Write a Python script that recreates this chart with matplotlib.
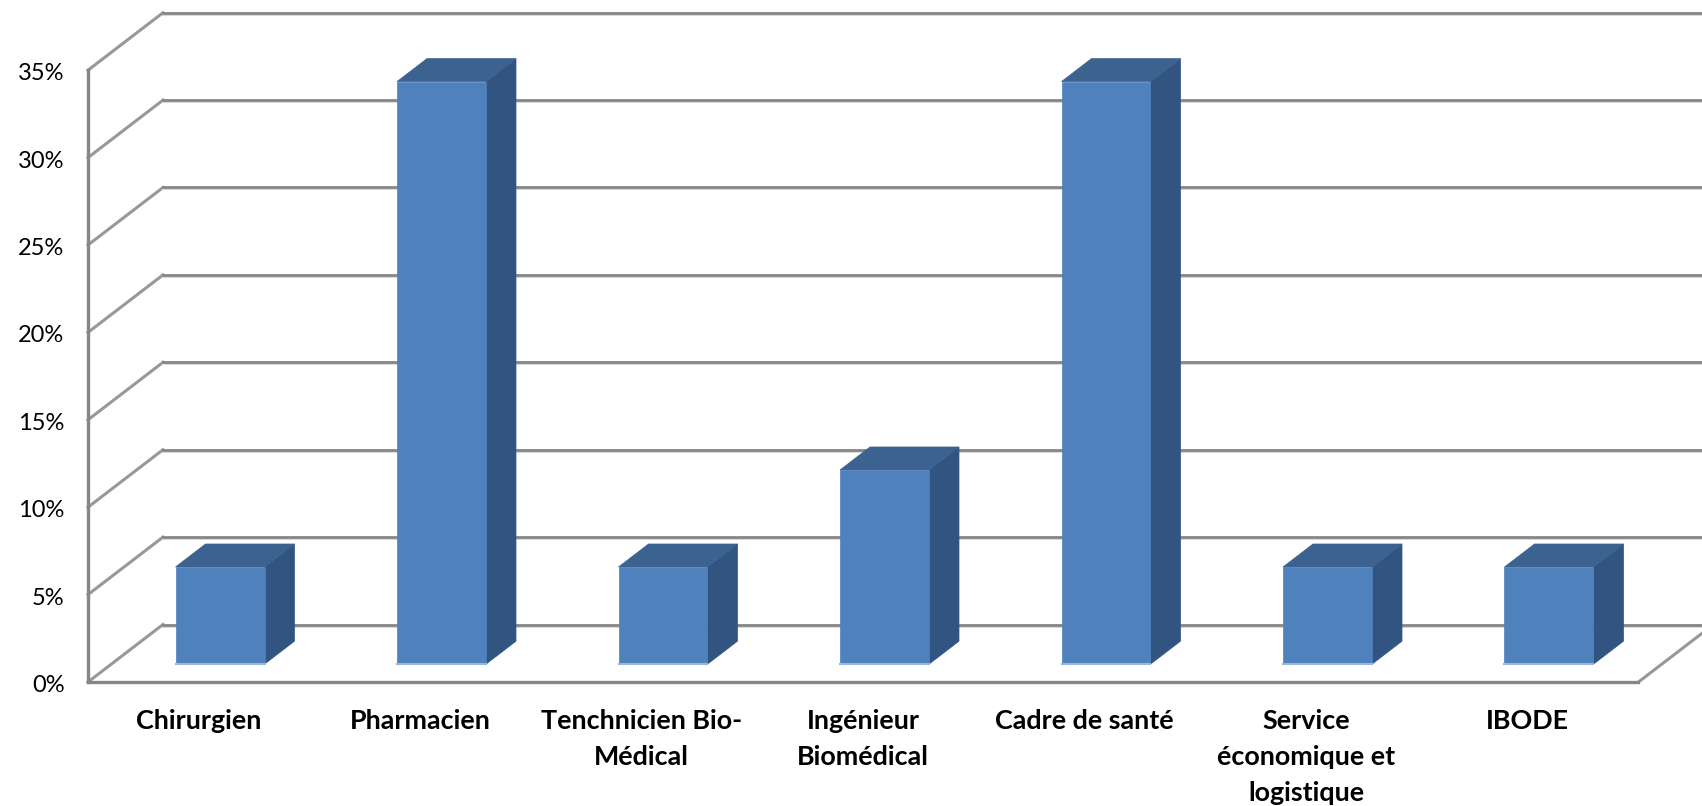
"""3D-style column chart: share of respondents by profession."""
import matplotlib

matplotlib.use("Agg")
import matplotlib.pyplot as plt
import numpy as np
from matplotlib.transforms import ScaledTranslation

categories = [
    "Chirurgien",
    "Pharmacien",
    "Tenchnicien Bio-\nMédical",
    "Ingénieur\nBiomédical",
    "Cadre de santé",
    "Service\néconomique et\nlogistique",
    "IBODE",
]
values = [5.56, 33.33, 5.56, 11.11, 33.33, 5.56, 5.56]
y_ticks = [0, 5, 10, 15, 20, 25, 30, 35]

W, H = 1702, 806
LEFT, FLOOR = 88, 682  # front corner of the plot, pixels
CAT_PX, PCT_PX = 221.5, 87.4 / 5

# oblique projection, in data units
DEPTH_X = 75 / CAT_PX
DEPTH_Y = 57.5 / PCT_PX
BAR_W = 89 / CAT_PX
BAR_SHIFT = -2 / CAT_PX
BAR_Z0, BAR_Z1 = 0.31, 0.71

GRID = "#868686"
FRONT = "#4F81BD"
SIDE = "#325480"
TOP = "#3C6290"


def proj(x, y, z):
    return x + z * DEPTH_X, y + z * DEPTH_Y


def face(ax, pts, color, zorder):
    xy = np.array([proj(*p) for p in pts])
    ax.fill(xy[:, 0], xy[:, 1], color=color, lw=0.5, zorder=zorder)


def main():
    plt.rcParams["font.family"] = ["Lato", "DejaVu Sans"]
    fig = plt.figure(figsize=(W / 100, H / 100), dpi=100)
    ax = fig.add_axes([LEFT / W, (H - FLOOR) / H, (W - LEFT) / W, FLOOR / H])
    ax.set_xlim(0, (W - LEFT) / CAT_PX)
    ax.set_ylim(0, FLOOR / PCT_PX)
    for s in ax.spines.values():
        s.set_visible(False)

    n = len(categories)
    xmax = ax.get_xlim()[1]
    below = ax.transData + ScaledTranslation(0, -2 / 100, fig.dpi_scale_trans)

    # walls and gridlines
    for t in y_ticks:
        bx, by = proj(0, t, 1)
        ax.plot([0, bx], [t, by], color=GRID, lw=2.2, alpha=0.85, zorder=1, clip_on=False)
        ax.plot([bx, xmax], [by, by], color="#D9D9D9", lw=1.5, zorder=1, transform=below)
        ax.plot([bx, xmax], [by, by], color=GRID, lw=2.0, zorder=2)
    ax.plot([0, 0], [0, y_ticks[-1]], color=GRID, lw=2.4, zorder=2, clip_on=False)
    ax.plot([0, n], [0, 0], color=GRID, lw=2.4, zorder=2, clip_on=False)
    ex, ey = proj(n, 0, 1)
    ax.plot([n, ex], [0, ey], color=GRID, lw=2.2, alpha=0.85, zorder=2)

    # bars
    for i, v in enumerate(values):
        x0 = i + 0.5 - BAR_W / 2 + BAR_SHIFT
        x1 = x0 + BAR_W
        face(ax, [(x1, 0, BAR_Z0), (x1, 0, BAR_Z1), (x1, v, BAR_Z1), (x1, v, BAR_Z0)], SIDE, 3)
        face(ax, [(x0, v, BAR_Z0), (x1, v, BAR_Z0), (x1, v, BAR_Z1), (x0, v, BAR_Z1)], TOP, 3)
        face(ax, [(x0, 0, BAR_Z0), (x1, 0, BAR_Z0), (x1, v, BAR_Z0), (x0, v, BAR_Z0)], FRONT, 4)
        bl, by = proj(x0, 0, BAR_Z0)
        br, _ = proj(x1, 0, BAR_Z0)
        ax.plot([bl, br], [by, by], color="#9DB6D8", lw=1.5, zorder=5)

    ax.set_yticks(y_ticks)
    ax.set_yticklabels([f"{t}%" for t in y_ticks], fontsize=17, color="black")
    ax.set_xticks(np.arange(n) + 0.5)
    ax.set_xticklabels(categories, fontsize=19.4, fontweight="bold", color="black",
                       linespacing=1.6)
    ax.tick_params(axis="y", length=0, pad=17)
    ax.tick_params(axis="x", length=0, pad=19.5)
    for label in ax.get_yticklabels():
        label.set_transform(label.get_transform()
                            + ScaledTranslation(0, -1.5 / 100, fig.dpi_scale_trans))

    fig.savefig("out.png", dpi=100)
    plt.close(fig)


if __name__ == "__main__":
    main()
